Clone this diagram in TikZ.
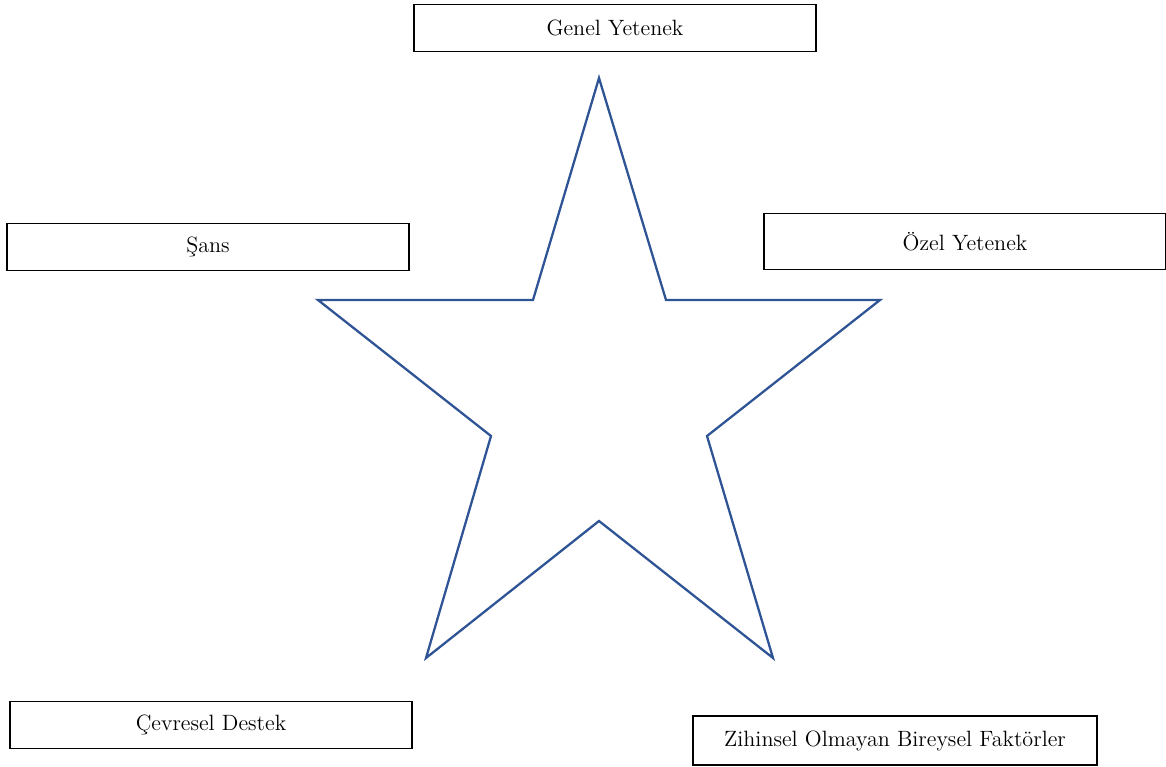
\documentclass[tikz,border=0pt]{standalone}
\usepackage{tikz}

\definecolor{starblue}{RGB}{47,84,150}

\begin{document}
\begin{tikzpicture}[x=0.02cm,y=-0.02cm,
        factor/.style={draw,line width=0.8pt,minimum width=8.04cm,
            minimum height=0.94cm,inner sep=0pt,
            font=\fontsize{12.6}{15}\selectfont}]
                \useasboundingbox (0,0) rectangle (1166,767);

                \node[factor] (genel) at (615,28) {Genel Yetenek};
                \node[factor] (sans) at (208,247) {Şans};
                \node[factor,minimum height=1.12cm] (ozel) at (965,241.5) {Özel Yetenek};
                \node[factor] (cevre) at (211,725) {Çevresel Destek};
                \node[factor,minimum width=8.08cm,minimum height=0.98cm] (zihin)
                    at (895,740.5) {Zihinsel Olmayan Bireysel Faktörler};

                \draw[starblue,line width=1.3pt,line join=miter]
                    (599,78) -- (666,300) -- (880,300) -- (707,436)
                    -- (773,658) -- (599,521) -- (426,658) -- (491,436)
                    -- (318,300) -- (533,300) -- cycle;
            \end{tikzpicture}
\end{document}
